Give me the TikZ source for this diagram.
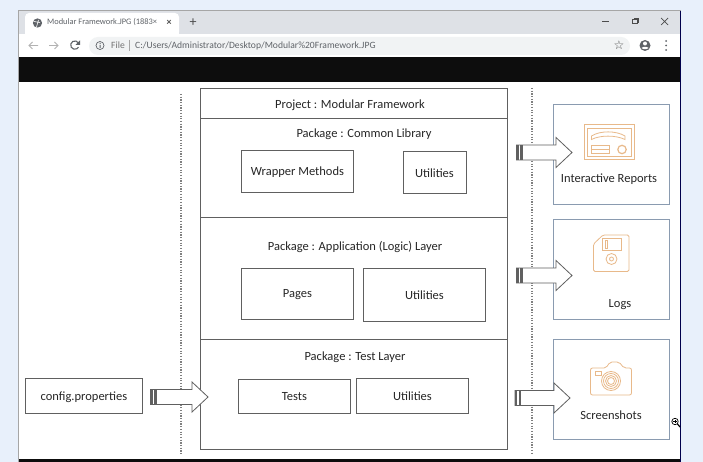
\documentclass[tikz,border=0pt]{standalone}
\usepackage{fontspec}
\setmainfont{Carlito}
\newfontfamily\symf{DejaVu Sans}
\usetikzlibrary{calc}
\definecolor{pagebg}{HTML}{E8F0FB}
\definecolor{tabbar}{HTML}{DEE1E6}
\definecolor{pill}{HTML}{F1F3F4}
\definecolor{chrome}{HTML}{5F6368}
\definecolor{edgeg}{HTML}{606060}
\definecolor{blueb}{HTML}{8A9BB0}
\definecolor{icono}{HTML}{E8B98A}
\definecolor{txt}{HTML}{262626}
\tikzset{
 x=1pt,y=-1pt,
 box/.style={draw=edgeg,line width=.9pt,fill=white,inner sep=0pt,text=txt},
 outbox/.style={draw=blueb,line width=1pt,fill=white},
 lab/.style={inner sep=0pt,text=txt,font=\fontsize{12.5}{14}\selectfont},
 chromet/.style={inner sep=0pt,anchor=west,text=chrome,font=\fontsize{8.4}{10}\selectfont},
 urlt/.style={chromet,font=\fontsize{9.6}{10}\selectfont},
 ico/.style={draw=icono,line width=.8pt},
 dots/.style={draw=gray,line width=1.2pt,dash pattern=on 1.2pt off 1.5pt},
 blockarrow/.style={draw=edgeg,line width=.8pt,fill=white}
}
\newcommand{\rectnode}[6][box]{\node[#1,minimum width=#4-#3,minimum height=#6-#5,anchor=north west] (#2) at (#3,#5) {};}
\newcommand{\barrow}[3]{% start coordinate name, end coordinate name, half shaft
 \path (#1) coordinate (tmpa) (#2) coordinate (tmpb);
 \draw[blockarrow] (tmpa) ++(0,-#3) -- ($(tmpb)+(-16,-#3)$) -- ($(tmpb)+(-16,-15)$) -- (tmpb) -- ($(tmpb)+(-16,15)$) -- ($(tmpb)+(-16,#3)$) -- ($(tmpa)+(0,#3)$) -- cycle;
 \fill[edgeg] ($(tmpa)+(0,-#3)$) rectangle ($(tmpa)+(2,#3)$);
 \fill[edgeg] ($(tmpa)+(3.5,-#3)$) rectangle ($(tmpa)+(6,#3)$);
}
\begin{document}
\begin{tikzpicture}
\useasboundingbox (0,0) rectangle (703,462);
\fill[pagebg] (0,0) rectangle (703,462);
% window
\fill[white] (18,11) rectangle (681,462);
\fill[tabbar] (18,11) rectangle (681,34);
\draw[gray!70,line width=1.2pt] (18.5,462) -- (18.5,10.5) -- (681,10.5);
\draw[black!70!blue,line width=.8pt] (680.8,11) -- (680.8,462);
\fill[white,rounded corners=4pt] (25,13) rectangle (179,36);
\fill[white] (25,30) rectangle (179,36);
\fill[black!95] (19,57.5) rectangle (680.4,82);
\fill[black!95] (19,458.5) rectangle (680.4,462);
\fill[pill,rounded corners=9pt] (89,37) rectangle (630,55);
% tab
\fill[chrome] (37.5,23) circle (4.6);
\draw[white,line width=.6pt] (34,21.5) -- (40,22.5) (36.5,27) -- (38.5,20);
\node[chromet] (tabt) at (47,22.5) {Modular Framework.JPG (1883×};
\node[inner sep=0pt,text=black!70,font=\bfseries\fontsize{10}{10}\selectfont] (tabx) at (169,23) {×};
\node[inner sep=0pt,text=black!70,font=\fontsize{14}{14}\selectfont] (tabp) at (193,22.5) {+};
\draw[black!70,line width=.8pt] (602,21.5) -- (608.5,21.5);
\draw[black!70,line width=.8pt] (632.5,19.5) rectangle (637,23.5) (634,19.5) -- (634,18) -- (638.5,18) -- (638.5,22) -- (637,22);
\draw[black!70,line width=.7pt] (661,18) -- (668,25) (668,18) -- (661,25);
% toolbar
\draw[black!30,line width=.9pt] (29,45.5) -- (38,45.5) (32.5,42) -- (29,45.5) -- (32.5,49);
\draw[black!30,line width=.9pt] (49,45.5) -- (58,45.5) (54.5,42) -- (58,45.5) -- (54.5,49);
\draw[chrome,line width=1.1pt] (78.5,43) arc[start angle=-30,end angle=-330,radius=4.2];
\fill[chrome] (80,40.5) -- (80,45) -- (75.5,45) -- cycle;
\draw[chrome,line width=.7pt] (100,45.5) circle (4);
\fill[chrome] (99.5,43) rectangle (100.5,44) (99.5,45) rectangle (100.5,48);
\node[urlt,text=black!55] (filet) at (111,45.5) {File};
\draw[black!35,line width=.6pt] (129.5,40) -- (129.5,51);
\node[urlt] (urlt) at (135,45.5) {C:/Users/Administrator/Desktop/Modular\%20Framework.JPG};
\node[inner sep=0pt,text=black!70,font=\symf\fontsize{12}{12}\selectfont] (star) at (619,45.5) {☆};
\fill[chrome] (645,45.5) circle (5.5);
\fill[white] (645,43.5) circle (2);
\fill[white] (641.5,48) .. controls (643,46.4) and (647,46.4) .. (648.5,48) .. controls (647,49.6) and (643,49.6) .. (641.5,48) -- cycle;
\fill[chrome] (666,41) circle (1) (666,45.5) circle (1) (666,50) circle (1);
% dotted
\coordinate (d1t) at (181,94); \coordinate (d1b) at (181,455);
\coordinate (d2t) at (532,88); \coordinate (d2b) at (532,455);
\draw[dots] (d1t) -- (d1b);
\draw[dots] (d2t) -- (d2b);
% main
\rectnode{main}{200}{507}{88}{449}
\coordinate (s1l) at (200,118); \coordinate (s1r) at (507,118);
\coordinate (s2l) at (200,217.5); \coordinate (s2r) at (507,217.5);
\coordinate (s3l) at (200,339); \coordinate (s3r) at (507,339);
\draw[edgeg,line width=.9pt] (s1l) -- (s1r) (s2l) -- (s2r) (s3l) -- (s3r);
\node[lab] (proj) at (350,105) {Project : Modular Framework};
\node[lab] (pk1) at (364,134) {Package : Common Library};
\node[lab] (pk2) at (355,247.5) {Package : Application (Logic) Layer};
\node[lab] (pk3) at (355,357) {Package : Test Layer};
\rectnode{wm}{241}{353}{150}{192}
\node[lab] at ($(wm)+(0,1)$) {\raisebox{2pt}{Wrapper Methods}};
\rectnode{u1}{403}{466}{151}{193}
\node[lab] at ($(u1)+(-.5,.5)$) {Utilities};
\rectnode{pg}{241}{353}{268}{319}
\node[lab] at ($(pg)+(0,1)$) {Pages};
\rectnode{u2}{363}{485}{268}{321}
\node[lab] at ($(u2)+(0,.5)$) {Utilities};
\rectnode{ts}{238}{350}{379}{413}
\node[lab] at ($(ts)+(0,.5)$) {Tests};
\rectnode{u3}{356}{468}{378}{413}
\node[lab] at ($(u3)+(0,.5)$) {Utilities};
\rectnode{cfg}{25}{142}{378}{413}
\node[lab] at ($(cfg)+(0,1)$) {config.properties};
% output boxes
\rectnode[outbox]{rep}{553}{669}{104}{204}
\rectnode[outbox]{logs}{553}{669}{219}{319}
\rectnode[outbox]{shot}{553}{669}{339}{439}
\node[lab] (rept) at (609,179) {Interactive Reports};
\node[lab] (logt) at (620,304.5) {Logs};
\node[lab] (shott) at (611,415) {Screenshots};
% report icon
\draw[ico,line width=1pt] (584,125) rectangle (634.5,160);
\draw[ico] (587.5,128.5) rectangle (631,156.5);
\draw[ico] (591.5,136) .. controls (600,130.5) and (616,130.5) .. (625,136) -- (625,139.5) .. controls (616,135) and (600,135) .. (591.5,139.5) -- cycle;
\draw[ico] (591,145.5) rectangle (609.5,149.5) (591,149.5) rectangle (609.5,153);
\draw[ico,line width=1.2pt] (622,149.5) circle (4.2);
% logs icon
\draw[ico,rounded corners=1.5pt] (593.5,244) -- (603,235) -- (629,235) -- (629,271.5) -- (593.5,271.5) -- cycle;
\draw[ico] (602,238.5) rectangle (621,250);
\draw[ico] (605,240.5) rectangle (607.5,248.5);
\draw[ico] (611.5,259) circle (5.5) (611.5,259) circle (2);
% camera icon
\draw[ico,rounded corners=2pt] (590.5,368) -- (606,368) -- (610,362) -- (619,362) -- (624,368) -- (631.5,368) -- (631.5,395) -- (590.5,395) -- cycle;
\draw[ico] (595,371) rectangle (601,375.5);
\draw[ico] (611,381) circle (9.5) (611,381) circle (7.5) (611,381) circle (5.5) (611,381) circle (3.5);
% arrows
\coordinate (a1s) at (516.5,152.5); \coordinate (a1e) at (572,152.5);
\coordinate (a2s) at (516.5,275.5); \coordinate (a2e) at (572,275.5);
\coordinate (a3s) at (515,398); \coordinate (a3e) at (570,398);
\coordinate (a4s) at (150.5,397); \coordinate (a4e) at (208,397);
\barrow{a1s}{a1e}{7.5}
\barrow{a2s}{a2e}{7.5}
\barrow{a3s}{a3e}{7.5}
\barrow{a4s}{a4e}{7.5}
% magnifier cursor
\draw[black,line width=.7pt,fill=white] (675,421.5) circle (3.2);
\draw[black,line width=1.2pt] (677.5,424) -- (680,427);
\draw[black,line width=.6pt] (673.3,421.5) -- (676.7,421.5) (675,419.8) -- (675,423.2);
\end{tikzpicture}
\end{document}
